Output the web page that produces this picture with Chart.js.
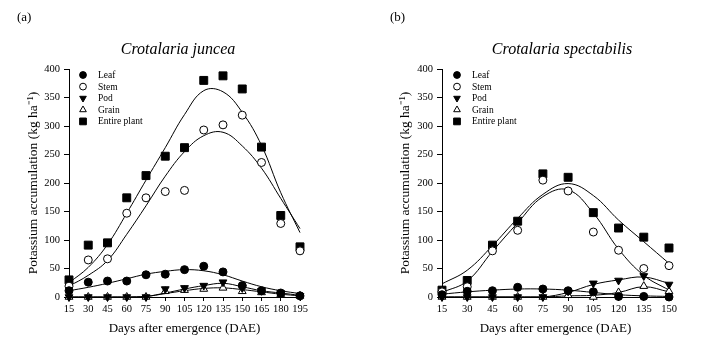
<!DOCTYPE html>
<html>
<head>
<meta charset="utf-8">
<script src="https://cdn.jsdelivr.net/npm/chart.js@4.4.1/dist/chart.umd.min.js"></script>
<style>
  html, body { margin: 0; padding: 0; background: #fff; }
  #wrap { position: relative; width: 712px; height: 350px; background: #fff; }
  .panel { position: absolute; top: 0; width: 356px; height: 350px; }
</style>
</head>
<body>
<div id="wrap">
  <div class="panel" style="left:0"><canvas id="chartA" width="356" height="350"></canvas></div>
  <div class="panel" style="left:356px"><canvas id="chartB" width="356" height="350"></canvas></div>
</div>
<script>
// (a) Crotalaria juncea - observed points
const daysA  = [15, 30, 45, 60, 75, 90, 105, 120, 135, 150, 165, 180, 195];
const leafA  = [11, 26, 28, 28, 39, 40, 48, 54, 44, 20, 11, 7, 2];
const stemA  = [19, 65, 67, 147, 174, 185, 187, 293, 302, 319, 236, 129, 81];
const podA   = [0, 0, 0, 0, 0, 14, 16, 20, 26, 16, 11, 7, 2];
const grainA = [0, 0, 0, 0, 0, 10, 12, 14, 16, 10, 8, 5, 2];
const plantA = [30, 91, 95, 174, 213, 247, 262, 380, 388, 365, 263, 143, 88];
// (a) fitted curves, read at each 15 days
const leafFitA  = [11, 17, 24, 32, 40, 45, 48, 46, 39, 28, 18, 11, 6];
const stemFitA  = [19, 38, 64, 110, 160, 212, 255, 283, 289, 265, 226, 173, 120];
const podFitA   = [0, 0, 0, 0, 1, 7, 14, 20, 24, 18, 11, 7, 3];
const grainFitA = [0, 0, 0, 0, 1, 6, 11, 15, 16, 13, 9, 5, 2];
const plantFitA = [25, 52, 92, 147, 205, 262, 320, 362, 360, 324, 266, 183, 113];

// (b) Crotalaria spectabilis - observed points
const daysB  = [15, 30, 45, 60, 75, 90, 105, 120, 135, 150];
const leafB  = [4, 10, 11, 17, 14, 11, 9, 1, 1, 0];
const stemB  = [9, 18, 81, 117, 205, 186, 114, 82, 50, 55];
const podB   = [0, 0, 0, 0, 0, 10, 24, 29, 37, 22];
const grainB = [0, 0, 0, 0, 0, 3, 0, 8, 19, 10];
const plantB = [12, 29, 91, 133, 216, 210, 148, 121, 105, 86];
// (b) fitted curves
const leafFitB  = [5, 9, 12, 14, 14, 12, 8, 4, 2, 1];
const stemFitB  = [8, 28, 80, 130, 176, 188, 147, 84, 38, 12];
const podFitB   = [0, 0, 0, 0, 0, 8, 22, 30, 35, 24];
const grainFitB = [0, 0, 0, 0, 0, 2, 3, 8, 18, 9];
const plantFitB = [23, 47, 90, 138, 180, 199, 178, 135, 97, 59];

const seriesNames = ['Leaf', 'Stem', 'Pod', 'Grain', 'Entire plant'];
const yTicks = [0, 50, 100, 150, 200, 250, 300, 350, 400];

const FONT = '"Liberation Serif", "Times New Roman", serif';

// marker look for each series
const markers = [
  { pointStyle: 'circle',   radius: 4,   rotation: 0,   bg: '#000' },
  { pointStyle: 'circle',   radius: 4,   rotation: 0,   bg: '#fff' },
  { pointStyle: 'triangle', radius: 4.5, rotation: 180, bg: '#000' },
  { pointStyle: 'triangle', radius: 4.5, rotation: 0,   bg: '#fff' },
  { pointStyle: 'rect',     radius: 5.6, rotation: 0,   bg: '#000' }
];

function pts(xs, ys) {
  return xs.map((x, i) => ({ x: x, y: ys[i] }));
}

function buildDatasets(days, observed, fitted) {
  const sets = [];
  observed.forEach((vals, i) => {
    const m = markers[i];
    sets.push({
      label: seriesNames[i],
      data: pts(days, vals),
      showLine: false,
      pointStyle: m.pointStyle,
      pointRadius: m.radius,
      pointRotation: m.rotation,
      pointBackgroundColor: m.bg,
      pointBorderColor: '#000',
      pointBorderWidth: 1,
      clip: false
    });
  });
  fitted.forEach((vals, i) => {
    sets.push({
      label: seriesNames[i] + ' fit',
      data: pts(days, vals),
      showLine: true,
      borderColor: '#000',
      borderWidth: 1,
      pointRadius: 0,
      tension: 0.4,
      fill: false,
      clip: false
    });
  });
  return sets;
}

// panel letter, species title and legend
const panelText = {
  id: 'panelText',
  afterDraw(chart, args, opts) {
    const ctx = chart.ctx;
    const area = chart.chartArea;
    ctx.save();
    ctx.fillStyle = '#000';
    ctx.textBaseline = 'middle';
    ctx.textAlign = 'left';
    ctx.font = '13px ' + FONT;
    ctx.fillText(opts.letter, opts.letterX, 18);
    ctx.textAlign = 'center';
    ctx.font = 'italic 16px ' + FONT;
    ctx.fillText(opts.species, opts.speciesX, 50);

    ctx.textAlign = 'left';
    ctx.font = '9.5px ' + FONT;
    seriesNames.forEach((name, i) => {
      const m = markers[i];
      const y = area.top + 6 + i * 11.6;
      const x = area.left + opts.legendDx;
      ctx.fillStyle = m.bg;
      ctx.strokeStyle = '#000';
      ctx.lineWidth = 1;
      Chart.helpers.drawPoint(ctx, {
        pointStyle: m.pointStyle,
        radius: m.radius * 0.85,
        rotation: m.rotation,
        borderWidth: 1
      }, x, y);
      ctx.fillStyle = '#000';
      ctx.fillText(name, x + 15, y + 0.5);
    });
    ctx.restore();
  }
};

function makeChart(id, days, observed, fitted, cfg) {
  const ctx = document.getElementById(id).getContext('2d');
  return new Chart(ctx, {
    type: 'scatter',
    data: { datasets: buildDatasets(days, observed, fitted) },
    options: {
      responsive: false,
      animation: false,
      events: [],
      layout: { padding: { left: cfg.padLeft, right: cfg.padRight, top: 69, bottom: 10 } },
      plugins: {
        legend: { display: false },
        tooltip: { enabled: false },
        panelText: cfg.text
      },
      scales: {
        x: {
          type: 'linear',
          min: days[0],
          max: days[days.length - 1],
          afterBuildTicks: (scale) => { scale.ticks = days.map(v => ({ value: v })); },
          afterFit: (scale) => { scale.height = 43; },
          border: { display: true, color: '#000', width: 1 },
          grid: { display: true, drawOnChartArea: false, drawTicks: true, tickLength: 4, color: '#000' },
          ticks: { color: '#000', font: { family: FONT, size: 10.5 }, padding: 2, maxRotation: 0, autoSkip: false },
          title: {
            display: true,
            text: 'Days after emergence (DAE)',
            color: '#000',
            font: { family: FONT, size: 13 },
            padding: { top: 4, bottom: 4 }
          }
        },
        y: {
          type: 'linear',
          min: 0,
          max: 400,
          afterBuildTicks: (scale) => { scale.ticks = yTicks.map(v => ({ value: v })); },
          afterFit: (scale) => { scale.width = cfg.yWidth; },
          border: { display: true, color: '#000', width: 1 },
          grid: { display: true, drawOnChartArea: false, drawTicks: true, tickLength: 5, color: '#000' },
          ticks: { color: '#000', font: { family: FONT, size: 10.5 }, padding: 4 },
          title: {
            display: true,
            text: 'Potassium accumulation (kg ha\u207B\u00B9)',
            color: '#000',
            font: { family: FONT, size: 13.5 },
            padding: { top: 5, bottom: 4 }
          }
        }
      }
    },
    plugins: [panelText]
  });
}

makeChart('chartA', daysA,
  [leafA, stemA, podA, grainA, plantA],
  [leafFitA, stemFitA, podFitA, grainFitA, plantFitA],
  {
    padLeft: 20, padRight: 56, yWidth: 49,
    text: { letter: '(a)', letterX: 17, species: 'Crotalaria juncea', speciesX: 178, legendDx: 14 }
  });

makeChart('chartB', daysB,
  [leafB, stemB, podB, grainB, plantB],
  [leafFitB, stemFitB, podFitB, grainFitB, plantFitB],
  {
    padLeft: 36, padRight: 43, yWidth: 50,
    text: { letter: '(b)', letterX: 34, species: 'Crotalaria spectabilis', speciesX: 206, legendDx: 15 }
  });
</script>
</body>
</html>
